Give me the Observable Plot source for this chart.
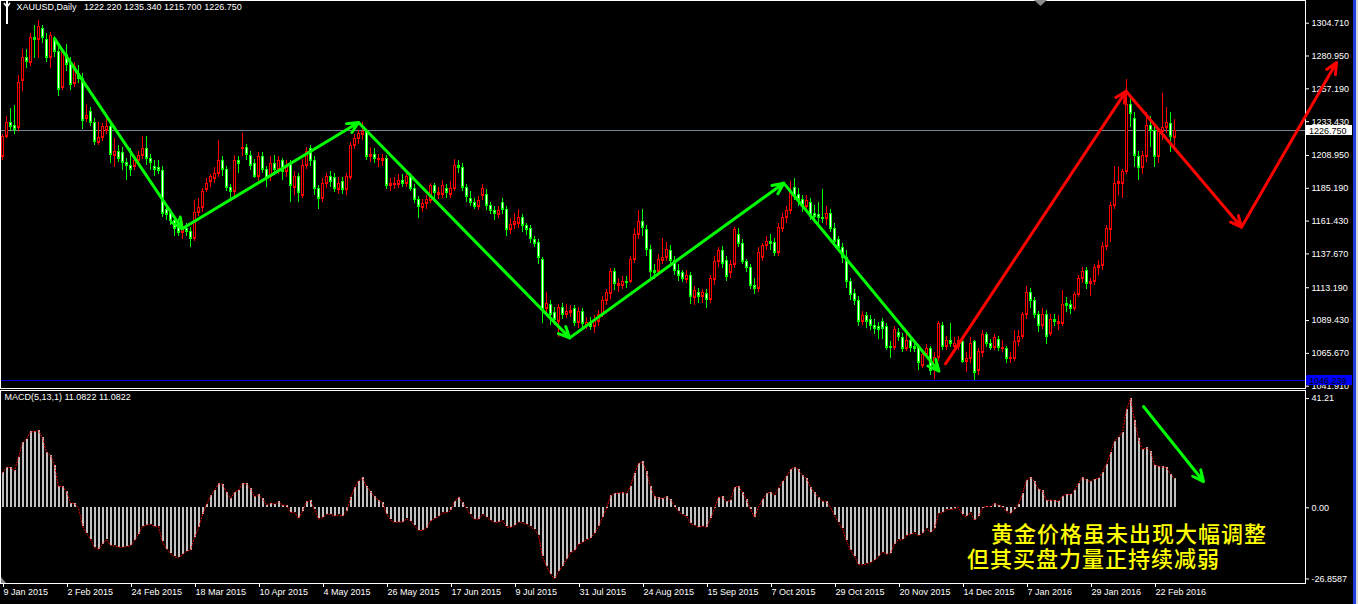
<!DOCTYPE html>
<html><head><meta charset="utf-8">
<script src="https://cdn.jsdelivr.net/npm/d3@7"></script>
<script src="https://cdn.jsdelivr.net/npm/@observablehq/plot@0.6"></script>
<style>
html,body{margin:0;padding:0;background:#000;}
#wrap{position:relative;width:1358px;height:604px;overflow:hidden;background:#000;}
#main{position:absolute;left:0;top:0;}
#macd{position:absolute;left:0;top:389px;}
.note{position:absolute;color:#ffff00;font-family:"Noto Sans CJK SC";font-weight:500;font-size:22px;letter-spacing:1px;white-space:nowrap;line-height:1;}
.stripe{position:absolute;top:0;height:604px;}
</style></head><body>
<div id="wrap">
<div id="main"></div><div id="macd"></div>
<div class="note" style="left:991px;top:521px">黄金价格虽未出现大幅调整</div>
<div class="note" style="left:967px;top:546px">但其买盘力量正持续减弱</div>
<div class="stripe" style="left:1353px;width:3px;background:#1f3fe0"></div>
<div class="stripe" style="left:1356px;width:2px;background:#d8d8d8"></div>
</div>
<script>
const symbol = "XAUUSD", timeframe = "Daily", macdName = "MACD(5,13,1)";

const opens = [
1208,1223,1233,1231,1229,1263,1280,1276,1294,1293,
1301,1293,1280,1293,1284,1258,1282,1276,1261,1268,
1265,1236,1241,1233,1218,1222,1227,1230,1209,1212,
1211,1204,1202,1201,1205,1209,1214,1207,1201,1200,
1198,1170,1167,1162,1159,1153,1156,1154,1149,1168,
1171,1184,1190,1192,1196,1205,1199,1186,1183,1205,
1214,1215,1209,1203,1194,1208,1199,1194,1203,1199,
1205,1197,1203,1186,1194,1180,1202,1214,1205,1185,
1178,1189,1194,1193,1184,1190,1184,1193,1216,1221,
1224,1226,1208,1210,1206,1205,1207,1187,1188,1188,
1191,1189,1194,1185,1177,1171,1174,1176,1187,1181,
1181,1185,1181,1185,1202,1200,1186,1178,1175,1172,
1180,1181,1173,1169,1166,1175,1170,1155,1159,1160,
1164,1158,1156,1148,1146,1134,1098,1101,1095,1089,
1099,1094,1095,1098,1088,1096,1086,1088,1085,1089,
1094,1104,1109,1125,1115,1115,1118,1118,1134,1152,
1161,1155,1141,1126,1125,1133,1135,1140,1133,1126,
1124,1119,1122,1106,1110,1107,1109,1105,1119,1132,
1140,1133,1124,1130,1152,1145,1132,1128,1115,1113,
1135,1144,1147,1146,1139,1156,1164,1169,1186,1181,
1177,1172,1175,1167,1166,1164,1163,1167,1156,1148,
1142,1135,1118,1109,1104,1089,1093,1090,1086,1085,
1089,1085,1071,1070,1081,1077,1069,1075,1071,1070,
1057,1065,1069,1056,1063,1086,1071,1075,1071,1071,
1074,1060,1062,1074,1053,1066,1079,1073,1070,1076,
1069,1069,1062,1062,1074,1078,1094,1110,1104,1094,
1086,1094,1080,1090,1087,1087,1102,1101,1098,1108,
1120,1126,1116,1118,1128,1129,1143,1155,1173,1189,
1189,1197,1246,1236,1208,1200,1208,1231,1227,1208,
1226,1229,1232,1222.22];

const highs = [
1224,1237,1243,1245,1267,1286,1286,1297,1303,1307,
1303,1297,1298,1295,1287,1286,1289,1280,1276,1274,
1268,1245,1244,1236,1233,1232,1238,1232,1221,1216,
1215,1207,1214,1208,1212,1223,1223,1210,1205,1205,
1201,1173,1170,1164,1163,1161,1160,1157,1176,1178,
1185,1192,1195,1200,1220,1208,1201,1188,1209,1208,
1225,1217,1212,1206,1211,1211,1201,1208,1209,1208,
1207,1205,1205,1197,1196,1206,1215,1216,1208,1187,
1192,1196,1197,1196,1193,1193,1196,1218,1224,1227,
1233,1227,1215,1214,1210,1210,1209,1192,1193,1195,
1195,1197,1196,1188,1179,1177,1180,1189,1189,1186,
1191,1188,1190,1206,1205,1203,1188,1183,1178,1179,
1188,1184,1175,1172,1172,1178,1172,1163,1167,1170,
1166,1160,1158,1150,1148,1135,1110,1104,1099,1101,
1102,1101,1100,1100,1099,1098,1092,1092,1093,1097,
1107,1112,1127,1127,1120,1121,1121,1136,1156,1169,
1170,1158,1144,1130,1137,1149,1146,1144,1136,1130,
1126,1126,1124,1114,1113,1112,1112,1122,1136,1142,
1143,1136,1133,1157,1156,1148,1134,1130,1120,1142,
1145,1150,1152,1149,1160,1167,1172,1190,1192,1185,
1180,1180,1178,1173,1175,1184,1172,1170,1160,1150,
1145,1140,1120,1112,1107,1096,1095,1093,1090,1088,
1091,1087,1074,1085,1084,1080,1080,1078,1074,1072,
1068,1072,1071,1066,1089,1088,1078,1087,1077,1078,
1076,1066,1077,1075,1069,1082,1081,1076,1079,1078,
1075,1071,1066,1082,1082,1095,1114,1113,1106,1096,
1098,1097,1094,1094,1093,1111,1106,1104,1110,1122,
1128,1128,1120,1130,1133,1146,1158,1175,1201,1200,
1199,1264,1250,1240,1212,1212,1240,1237,1230,1228,
1254,1244,1240,1235.34];

const lows = [
1205,1221,1226,1224,1226,1255,1272,1273,1279,1279,
1290,1276,1272,1280,1252,1256,1270,1256,1258,1261,
1228,1233,1230,1216,1216,1219,1224,1203,1200,1204,
1198,1191,1194,1198,1201,1206,1202,1198,1194,1195,
1164,1162,1158,1150,1150,1148,1150,1142,1147,1165,
1168,1182,1186,1189,1193,1194,1183,1178,1178,1196,
1208,1205,1198,1192,1190,1196,1186,1190,1196,1195,
1191,1193,1175,1180,1175,1178,1199,1201,1180,1170,
1175,1185,1186,1182,1181,1181,1180,1191,1213,1217,
1220,1205,1204,1203,1200,1201,1184,1183,1184,1185,
1186,1186,1183,1174,1163,1168,1170,1174,1178,1177,
1178,1178,1178,1183,1196,1183,1175,1172,1170,1169,
1176,1169,1166,1162,1163,1166,1150,1152,1155,1156,
1153,1151,1145,1142,1130,1087,1093,1086,1086,1077,
1090,1091,1092,1085,1084,1083,1083,1082,1080,1085,
1092,1100,1105,1111,1110,1112,1113,1116,1131,1148,
1150,1136,1120,1119,1121,1130,1132,1130,1122,1118,
1117,1116,1101,1100,1102,1102,1098,1102,1115,1128,
1127,1118,1120,1127,1142,1130,1124,1112,1108,1110,
1132,1140,1140,1136,1136,1153,1160,1166,1176,1172,
1168,1168,1162,1160,1160,1160,1158,1153,1143,1139,
1131,1113,1104,1100,1085,1086,1084,1082,1079,1076,
1076,1068,1062,1068,1074,1066,1067,1066,1066,1053,
1055,1062,1050,1046.5,1060,1068,1068,1070,1068,1068,
1058,1052,1058,1046.239,1050,1063,1070,1068,1068,1067,
1066,1058,1058,1060,1071,1076,1090,1098,1091,1081,
1083,1072,1078,1085,1082,1085,1095,1094,1096,1106,
1116,1112,1107,1115,1122,1126,1140,1146,1170,1180,
1178,1195,1229,1200,1191,1195,1204,1215,1200,1203,
1220,1225,1211,1215.70];

const closes = [
1223,1233,1230,1228,1262,1280,1277,1294,1293,1302,
1294,1280,1296,1284,1257,1284,1275,1260,1273,1265,
1234,1238,1233,1219,1222,1230,1230,1210,1212,1207,
1204,1202,1199,1205,1209,1214,1207,1204,1199,1198,
1167,1166,1162,1156,1153,1156,1154,1149,1168,1171,
1183,1189,1194,1196,1205,1199,1186,1183,1205,1203,
1215,1210,1202,1194,1208,1199,1192,1203,1199,1205,
1197,1200,1187,1194,1182,1202,1212,1205,1185,1178,
1189,1194,1190,1185,1189,1184,1194,1216,1221,1225,
1226,1208,1210,1207,1207,1207,1187,1189,1189,1191,
1189,1194,1185,1177,1172,1174,1177,1187,1182,1182,
1187,1182,1185,1202,1200,1186,1179,1175,1172,1176,
1185,1173,1169,1167,1169,1170,1155,1159,1161,1164,
1158,1155,1149,1145,1135,1097,1102,1094,1090,1099,
1094,1096,1097,1088,1096,1087,1088,1085,1090,1094,
1104,1110,1125,1116,1116,1118,1117,1134,1152,1161,
1157,1141,1125,1124,1134,1135,1141,1133,1126,1122,
1120,1122,1107,1111,1107,1110,1105,1120,1132,1140,
1131,1121,1130,1155,1145,1132,1128,1115,1113,1139,
1144,1147,1145,1139,1157,1164,1169,1182,1180,1177,
1172,1176,1165,1165,1164,1163,1167,1156,1147,1142,
1135,1118,1108,1104,1089,1093,1089,1086,1084,1083,
1084,1070,1070,1083,1078,1069,1075,1070,1069,1059,
1065,1069,1053,1063,1087,1071,1075,1073,1073,1075,
1060,1062,1073,1052,1067,1079,1073,1070,1077,1070,
1070,1062,1063,1074,1078,1094,1110,1104,1094,1086,
1094,1078,1090,1089,1089,1101,1100,1098,1108,1120,
1125,1116,1118,1128,1129,1143,1156,1173,1189,1190,
1197,1246,1239,1209,1200,1209,1231,1227,1208,1226,
1229,1233,1223,1226.75];

const macdValues = [
13.3,15.3,15.2,14.0,19.1,24.5,25.9,28.7,28.7,29.1,
26.4,20.9,19.9,16.0,7.9,8.1,6.0,1.7,1.6,0.0,
-6.9,-9.7,-11.8,-15.1,-15.7,-13.7,-12.0,-14.2,-14.4,-14.8,
-14.9,-14.6,-14.4,-12.4,-9.9,-7.1,-6.5,-6.3,-7.0,-7.2,
-12.9,-15.6,-17.3,-18.5,-18.9,-17.7,-16.5,-16.0,-11.3,-7.6,
-2.7,1.3,4.5,6.5,9.0,8.9,5.9,3.4,5.9,6.7,
9.1,9.1,7.2,4.2,4.9,3.4,1.0,1.7,1.3,2.2,
1.0,0.9,-1.7,-1.8,-4.1,-1.3,2.2,2.8,-0.8,-4.2,
-3.8,-2.5,-2.4,-3.1,-2.7,-3.2,-1.5,3.7,7.5,10.1,
11.3,8.0,6.1,4.1,2.8,2.0,-2.5,-4.5,-5.5,-5.4,
-5.4,-4.2,-5.0,-6.8,-8.5,-8.6,-7.7,-5.0,-4.1,-3.4,
-1.9,-1.9,-1.2,2.4,4.0,2.1,-0.4,-2.6,-4.3,-4.3,
-2.4,-3.5,-4.7,-5.6,-5.4,-4.9,-7.2,-7.4,-6.8,-5.5,
-5.7,-6.2,-7.2,-8.2,-10.3,-18.5,-22.0,-25.0,-26.8587,-24.0,
-22.0,-19.5,-17.0,-16.3,-13.8,-13.2,-12.1,-11.5,-9.6,-7.2,
-3.6,-0.3,4.5,5.3,5.5,5.8,5.4,8.2,12.9,16.7,
17.3,13.7,8.0,4.2,3.7,3.4,4.2,3.0,0.8,-1.3,
-2.7,-3.1,-6.0,-6.6,-7.4,-6.9,-7.3,-4.2,-0.1,3.9,
4.1,2.3,2.7,7.7,8.2,5.7,3.2,-0.8,-3.5,0.1,
3.1,5.3,5.9,4.8,7.4,9.8,11.7,14.6,15.3,14.4,
12.2,11.1,7.8,5.6,3.9,2.5,2.4,0.1,-3.0,-5.5,
-8.0,-12.4,-16.1,-18.2,-21.4,-21.5,-21.2,-20.7,-19.8,-18.5,
-16.7,-17.5,-17.2,-13.7,-12.0,-12.1,-10.5,-10.0,-9.4,-10.6,
-9.6,-7.8,-9.4,-8.0,-2.2,-1.9,-0.8,-0.6,-0.4,0.1,
-2.5,-3.4,-1.7,-4.7,-3.3,-0.1,0.6,0.4,1.6,0.9,
0.4,-1.4,-2.2,-0.5,1.3,5.4,10.4,11.6,9.9,7.0,
6.4,2.7,2.9,2.6,2.3,4.3,5.1,4.9,6.5,9.3,
11.5,10.5,9.8,10.8,11.1,13.4,16.5,20.8,25.2,26.7,
28.5,37.0,41.21,33.0,26.0,22.0,22.6,21.4,16.1,15.7,
15.4,15.2,12.5,11.0822];

// axis ticks and labels
const priceTicks = [1304.71,1280.95,1257.19,1233.43,1208.95,1185.19,1161.43,1137.67,1113.19,1089.43,1065.67,1041.91];
const macdTicks = [41.21, 0, -26.8587];
const macdTickLabels = ["41.21", "0.00", "-26.8587"];
const xTickIndex = [0,16,32,48,64,80,96,112,128,144,160,176,192,208,224,240,256,272,288];
const xTickLabels = ["9 Jan 2015","2 Feb 2015","24 Feb 2015","18 Mar 2015","10 Apr 2015","4 May 2015","26 May 2015","17 Jun 2015","9 Jul 2015","31 Jul 2015","24 Aug 2015","15 Sep 2015","7 Oct 2015","29 Oct 2015","20 Nov 2015","14 Dec 2015","7 Jan 2016","29 Jan 2016","22 Feb 2016"];

// horizontal price lines
const currentPrice = closes[closes.length - 1];
const lowLine = 1046.239;

// hand-drawn trend arrows (bar index, price)
const greenPath = [[13,1293.6],[44.9,1155.9],[89,1232.8],[141.8,1076.9],[195.3,1188.9],[234.1,1052.8]];
const redPath = [[235.75,1058.1],[280.9,1255.5],[309.75,1157.0],[333.5,1276.2]];
const macdArrowPath = [[285.25,38.2],[300.25,9.9]];

// ---------- build ----------
const N = closes.length;
const bars = closes.map((c, i) => ({i, o: opens[i], h: highs[i], l: lows[i], c, bull: c >= opens[i]}));
const macdData = macdValues.map((m, i) => ({i, m}));
const segs = p => p.slice(1).map((q, k) => ({x1: p[k][0], y1: p[k][1], x2: q[0], y2: q[1]}));

const RED = "#ff0000", LIME = "#00ff00";
const FONT = "'Liberation Sans', Arial, sans-serif";
const xDomain = [-0.5, 325.75];
const xScale = {type: "linear", domain: xDomain, axis: null};
const bodyX1 = d => d.i - 0.375, bodyX2 = d => d.i + 0.375;
const bodyLo = d => Math.min(d.o, d.c), bodyHi = d => Math.max(d.o, d.c);
const col = d => d.bull ? RED : LIME;

const fmt3 = v => v.toFixed(3);
const title = `${symbol},${timeframe}\u00a0\u00a0\u00a0${fmt3(opens[N-1])} ${fmt3(highs[N-1])} ${fmt3(lows[N-1])} ${fmt3(closes[N-1])}`;
const arrowOpts = {x1: "x1", y1: "y1", x2: "x2", y2: "y2", strokeWidth: 3, headLength: 6, headAngle: 50};

const mainPlot = Plot.plot({
  width: 1358, height: 389,
  marginLeft: 0, marginRight: 53, marginTop: 0, marginBottom: 1,
  style: {background: "#000", color: "#fff", fontFamily: FONT, fontSize: "9px"},
  x: xScale,
  y: {domain: [1040.25, 1321.14], axis: null},
  color: {type: "identity"},
  marks: [
    Plot.ruleY([currentPrice], {stroke: "#778899", shapeRendering: "crispEdges"}),
    Plot.ruleY([lowLine], {stroke: "#0000e0", shapeRendering: "crispEdges"}),
    Plot.ruleX(bars, {x: "i", y1: "l", y2: "h", stroke: col, shapeRendering: "crispEdges"}),
    Plot.rect(bars, {x1: bodyX1, x2: bodyX2, y1: bodyLo, y2: bodyHi, fill: col, shapeRendering: "crispEdges"}),
    Plot.rect(bars, {x1: bodyX1, x2: bodyX2, y1: bodyLo, y2: bodyHi, inset: 1, fill: d => d.bull ? "#000" : "#fff", shapeRendering: "crispEdges"}),
    Plot.ruleY(bars, {y: "o", x1: bodyX1, x2: bodyX2, stroke: col, shapeRendering: "crispEdges"}),
    Plot.ruleY(bars, {y: "c", x1: bodyX1, x2: bodyX2, stroke: col, shapeRendering: "crispEdges"}),
    Plot.frame({stroke: "#fff"}),
    Plot.axisY({anchor: "right", ticks: priceTicks, tickFormat: fmt3, tickSize: 3, tickPadding: 3, label: null, fontSize: 9, stroke: "#fff", fill: "#fff"}),
    Plot.arrow(segs(greenPath), {...arrowOpts, stroke: LIME}),
    Plot.arrow(segs(redPath), {...arrowOpts, stroke: RED}),
    Plot.text([title], {frameAnchor: "top-left", dx: 16, dy: 3, textAnchor: "start", lineAnchor: "top", fill: "#fff", fontSize: 9})
  ]
});
document.getElementById("main").appendChild(mainPlot);

// price label boxes on the right scale, icon and shift marker
{
  const ys = mainPlot.scale("y");
  const svg = d3.select(mainPlot);
  const boxes = [
    {v: lowLine, bg: "#0000ff", fg: "#000"},
    {v: currentPrice, bg: "#fff", fg: "#000"}
  ];
  const g = svg.append("g");
  for (const b of boxes) {
    const y = Math.round(ys.apply(b.v));
    g.append("rect").attr("x", 1306).attr("y", y - 5).attr("width", 46).attr("height", 10).attr("fill", b.bg);
    g.append("text").attr("x", 1309).attr("y", y + 0.5).attr("dy", "0.35em").attr("text-anchor", "start")
      .attr("fill", b.fg).attr("font-size", 9).attr("font-family", FONT).text(fmt3(b.v));
  }
  g.append("rect").attr("x", 6).attr("y", 0).attr("width", 2).attr("height", 24).attr("fill", "#fff");
  g.append("path").attr("d", "M4,3 L7,7 L10,3").attr("stroke", "#fff").attr("stroke-width", 1.5).attr("fill", "none");
  g.append("path").attr("d", "M1034,0 L1047,0 L1040.5,6 Z").attr("fill", "#8a8a8a");
}

const xLabelMap = new Map(xTickIndex.map((v, k) => [v, xTickLabels[k]]));
const macdLabelMap = new Map(macdTicks.map((v, k) => [v, macdTickLabels[k]]));
const macdLast = macdValues[N-1].toFixed(4);

const macdPlot = Plot.plot({
  width: 1358, height: 215,
  marginLeft: 0, marginRight: 53, marginTop: 1, marginBottom: 21,
  style: {background: "#000", color: "#fff", fontFamily: FONT, fontSize: "9px"},
  x: xScale,
  y: {domain: [-28.57, 44.26], axis: null},
  marks: [
    Plot.ruleX(macdData, {x: "i", y1: 0, y2: "m", stroke: "#c0c0c0", strokeWidth: 2, shapeRendering: "crispEdges"}),
    Plot.line(macdData, {x: "i", y: "m", stroke: RED, strokeWidth: 1, strokeDasharray: "1,2"}),
    Plot.frame({stroke: "#fff"}),
    Plot.axisY({anchor: "right", ticks: macdTicks, tickFormat: d => macdLabelMap.get(d), tickSize: 3, tickPadding: 3, label: null, fontSize: 9, stroke: "#fff", fill: "#fff"}),
    Plot.axisX({anchor: "bottom", ticks: xTickIndex, tickFormat: d => xLabelMap.get(d), tickSize: 4, tickPadding: 1, textAnchor: "start", dx: 1, label: null, fontSize: 9, stroke: "#fff", fill: "#fff"}),
    Plot.arrow(segs(macdArrowPath), {...arrowOpts, stroke: LIME}),
    Plot.text([`${macdName} ${macdLast} ${macdLast}`], {frameAnchor: "top-left", dx: 4, dy: 3, textAnchor: "start", lineAnchor: "top", fill: "#fff", fontSize: 9})
  ]
});
document.getElementById("macd").appendChild(macdPlot);
d3.select(macdPlot).append("path").attr("d", "M1,188 L1,194 L6,194 Z").attr("fill", "#8a8a8a");
</script>
</body></html>
